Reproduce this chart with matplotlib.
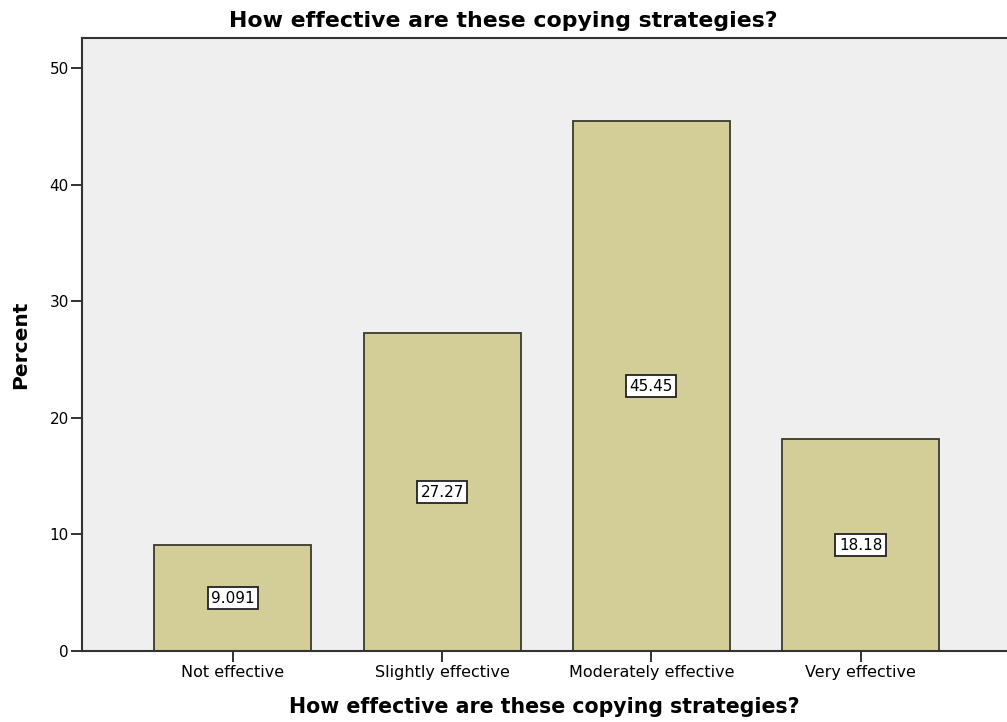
import numpy as np
import matplotlib
matplotlib.use("Agg")
import matplotlib.pyplot as plt

categories = ["Not effective", "Slightly effective", "Moderately effective", "Very effective"]
percents = [9.091, 27.27, 45.45, 18.18]
labels = ["9.091", "27.27", "45.45", "18.18"]
title = "How effective are these copying strategies?"

plt.rcParams["font.family"] = ["DejaVu Sans"]

fig = plt.figure(figsize=(10.07, 7.22), dpi=100)
ax = fig.add_axes([0.0814, 0.0983, 0.9186, 0.8491])
ax.set_facecolor("#efefef")

x = np.arange(len(categories))
ax.bar(x, percents, width=0.75, color="#d3ce98", edgecolor="#3a3a30", linewidth=1.3)

# value labels in the middle of each bar
for xi, v, lab in zip(x, percents, labels):
    ax.text(xi, v / 2, lab, ha="center", va="center", fontsize=11,
            bbox=dict(boxstyle="square,pad=0.22", fc="white", ec="#222222", lw=1.3))

ax.set_xlim(-0.721, 3.70)
ax.set_ylim(0, 52.6)
ax.set_yticks([0, 10, 20, 30, 40, 50])
ax.set_xticks(x)
ax.set_xticklabels(categories, fontsize=11.5)
ax.tick_params(axis="y", labelsize=11, length=8, width=1.3, color="#222222", pad=1.5)
ax.tick_params(axis="x", length=8, width=1.3, color="#222222", pad=2)

for s in ["left", "bottom", "top"]:
    ax.spines[s].set_color("#333333")
    ax.spines[s].set_linewidth(1.5)
ax.spines["right"].set_visible(False)

# title is centred on the figure, not the (cropped) axes
fig.text(0.5, 1 - 27 / 722, title, ha="center", va="baseline", fontsize=15.8, fontweight="bold")
ax.set_xlabel(title, fontsize=14.8, fontweight="bold", labelpad=12)
ax.set_ylabel("Percent", fontsize=14.5, fontweight="bold", labelpad=14)

fig.savefig("out.png", dpi=100)
